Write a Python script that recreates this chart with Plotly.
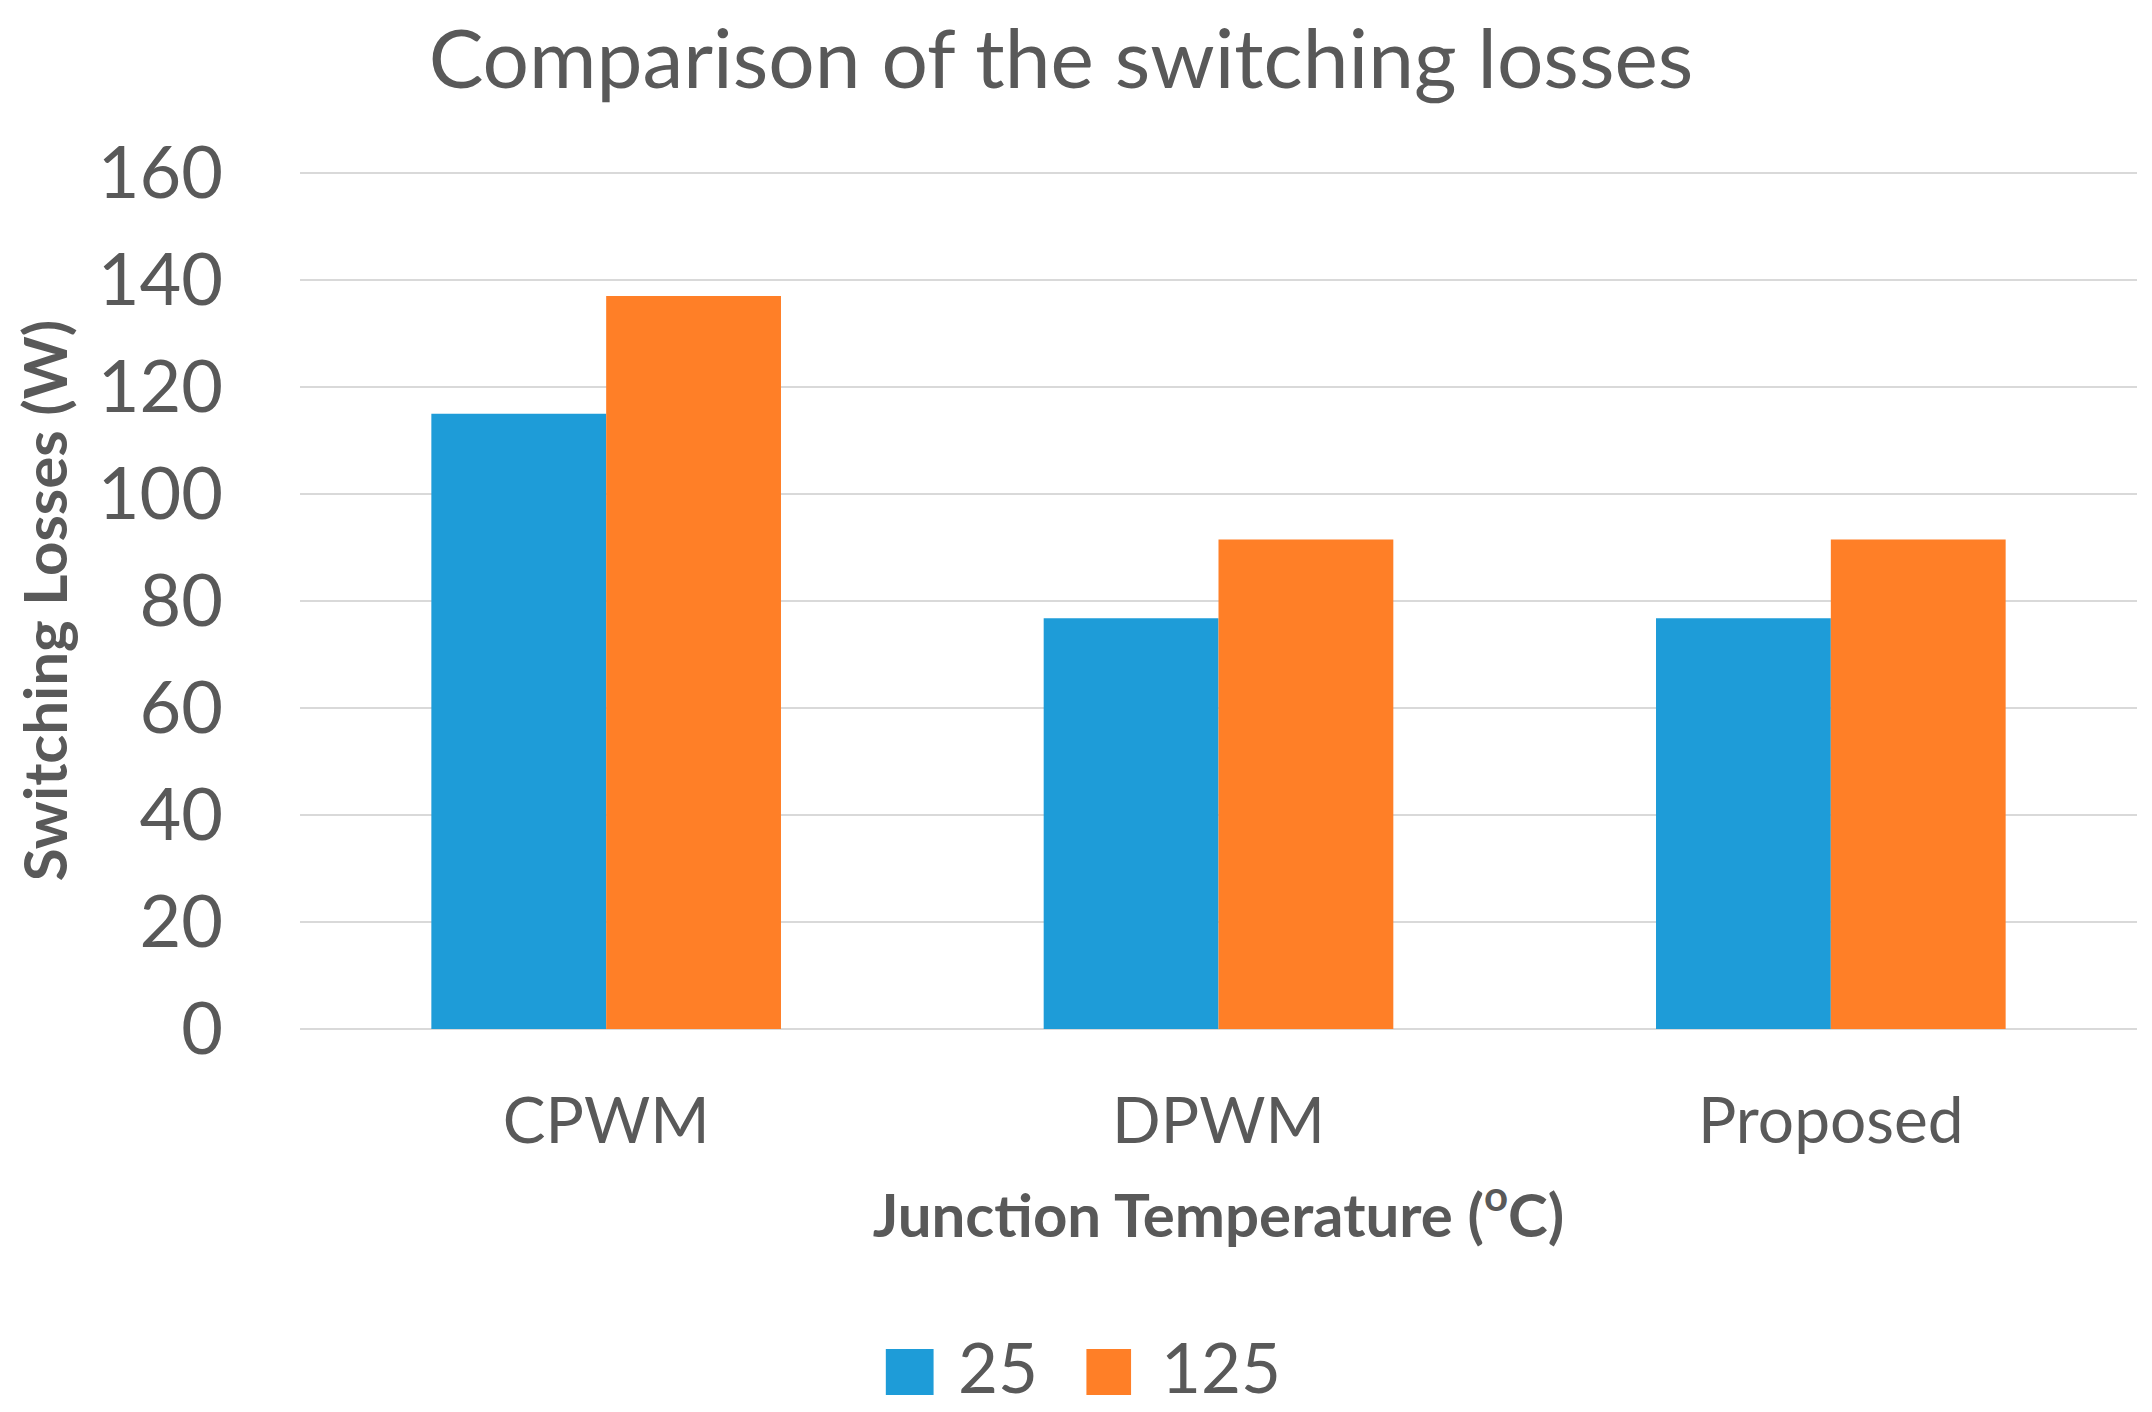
import plotly.graph_objects as go

categories = ["CPWM", "DPWM", "Proposed"]
series_names = ["25", "125"]
losses_25 = [115, 76.8, 76.8]
losses_125 = [137, 91.5, 91.5]
colors = ["#1E9CD8", "#FF7F27"]
y_ticks = [0, 20, 40, 60, 80, 100, 120, 140, 160]

TXT = "#595959"
FONT = "Lato"
W, H = 2144, 1404  # page adds an 8px body margin

fig = go.Figure()
for name, vals, col in zip(series_names, [losses_25, losses_125], colors):
    fig.add_trace(go.Bar(x=categories, y=vals, name=name, marker_color=col,
                         marker_line_width=0, showlegend=False))

# legend drawn as large squares + labels below the plot
leg_sq = [(0.3189, 0.3449), (0.4281, 0.4524)]
leg_tx = [0.3573, 0.4676]
for (x0, x1), tx, name, col in zip(leg_sq, leg_tx, series_names, colors):
    fig.add_shape(type="rect", xref="paper", yref="paper", x0=x0, x1=x1,
                  y0=-0.4271, y1=-0.3734, fillcolor=col, line_width=0)
    fig.add_annotation(xref="paper", yref="paper", x=tx, y=-0.4446, text=name,
                       showarrow=False, xanchor="left", yanchor="bottom",
                       font=dict(family=FONT, size=69, color=TXT))

fig.update_layout(
    width=W, height=H,
    margin=dict(l=279, r=15, t=164, b=383),
    paper_bgcolor="white", plot_bgcolor="white",
    barmode="group", bargap=0.429, bargroupgap=0,
    title=dict(text="Comparison of the switching losses", x=0.4911, xanchor="center",
               y=1 - 51 / H, yanchor="middle", yref="container",
               font=dict(family=FONT, size=82, color=TXT)),
    xaxis=dict(tickfont=dict(family=FONT, size=64, color=TXT), showgrid=False,
               showline=False, ticks="", ticklabelstandoff=49,
               title=dict(text="<b>Junction Temperature (<sup>o</sup>C)</b>",
                          font=dict(family=FONT, size=60, color=TXT), standoff=38)),
    yaxis=dict(range=[0, 160.2], tickvals=y_ticks, showgrid=True, gridcolor="#D9D9D9",
               gridwidth=2, zeroline=True, zerolinecolor="#D9D9D9", zerolinewidth=2,
               showline=False, ticks="", ticklabelstandoff=76,
               tickfont=dict(family=FONT, size=72, color=TXT),
               title=dict(text="<b>Switching Losses (W)</b>",
                          font=dict(family=FONT, size=60, color=TXT), standoff=36)),
)

fig.write_html("out.html")
